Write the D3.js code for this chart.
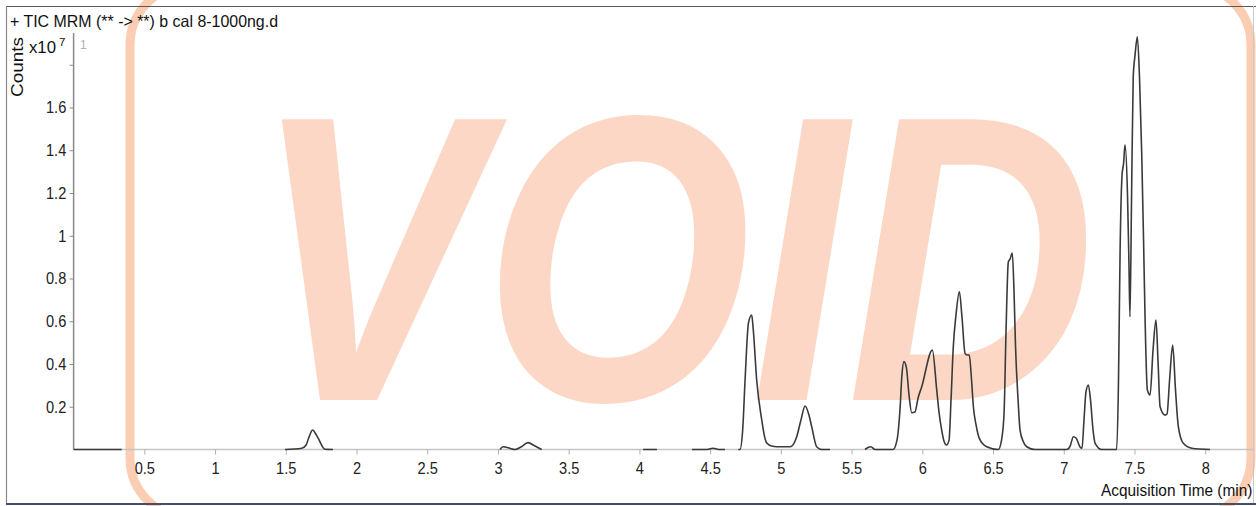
<!DOCTYPE html>
<html>
<head>
<meta charset="utf-8">
<script src="https://cdn.jsdelivr.net/npm/d3@7"></script>
<style>
  html, body { margin: 0; padding: 0; background: #ffffff; }
  #wrap { position: relative; width: 1256px; height: 506px; overflow: hidden; }
  svg { position: absolute; left: 0; top: 0; display: block; font-family: "Liberation Sans", Arial, sans-serif; z-index: 1; }
  .stamp-word {
    position: absolute; z-index: 0; white-space: nowrap;
    font-family: "Liberation Sans", Arial, sans-serif;
    font-style: italic; font-weight: bold;
    transform-origin: 0 0;
  }
</style>
</head>
<body>
<div id="wrap">
<svg id="chart" width="1256" height="506"></svg>
</div>
<script>
// ---------- data (time in min, counts in x10^7; null = no data segment) ----------
const traceTime = [
  0, 0.34, null,
  1.494, 1.613, 1.643, 1.664, 1.690, 1.714, 1.728, 1.777, 1.834, null,
  3.015, 3.036, 3.078, 3.121, 3.163, 3.212, 3.262, 3.309, null,
  4.026, 4.124, null,
  4.372, 4.48, 4.52, 4.56, 4.605, null,
  4.699, 4.711, 4.730, 4.747, 4.771, 4.794, 4.805, 4.829, 4.865, 4.885, 4.9, 4.935, 4.971, 5.065,
  5.112, 5.142, 5.171, 5.199, 5.218, 5.253, 5.29, 5.348, null,
  5.595, 5.616, 5.637, 5.665, 5.793, 5.821, 5.842, 5.856, 5.870, 5.888, 5.906, 5.925, 5.948,
  5.970, 5.996, 6.071, 6.102, 6.118, 6.137, 6.153, 6.171, 6.189, 6.203, 6.219, 6.238, 6.262,
  6.281, 6.302, 6.316, 6.332, 6.348, 6.361, 6.380, 6.403, 6.455, 6.537, 6.560, 6.578, 6.592,
  6.608, 6.620, 6.636, 6.648, 6.659, 6.677, 6.691, 6.712, 6.738, 6.797, 7.021, 7.045, 7.068,
  7.087, 7.115, 7.129, 7.143, 7.157, 7.174, 7.189, 7.207, 7.221, 7.268, 7.374, 7.387, 7.398,
  7.412, 7.423, 7.433, 7.451, 7.461, 7.468, 7.479, 7.491, 7.504, 7.520, 7.536, 7.551, 7.564,
  7.575, 7.591, 7.610, 7.631, 7.652, 7.666, 7.681, 7.716, 7.730, 7.748, 7.770, 7.790, 7.810,
  7.845, 7.905, 8.034
];
const traceCounts = [
  0, 0, null,
  0, 0.006, 0.02, 0.058, 0.091, 0.07, 0.054, 0.001, 0, null,
  0, 0.013, 0.007, 0, 0.012, 0.032, 0.016, 0, null,
  0, 0, null,
  0, 0, 0.006, 0, 0, null,
  0, 0, 0.091, 0.325, 0.592, 0.629, 0.56, 0.325, 0.138, 0.06, 0.03, 0.016, 0.013, 0.013,
  0.06, 0.138, 0.2035, 0.16, 0.107, 0.013, 0, 0, null,
  0, 0.009, 0.013, 0, 0, 0.044, 0.185, 0.349, 0.411, 0.381, 0.255, 0.172, 0.175,
  0.241, 0.294, 0.465, 0.278, 0.175, 0.091, 0.04, 0.021, 0.044, 0.232, 0.481, 0.629, 0.738,
  0.615, 0.45, 0.442, 0.442, 0.325, 0.2, 0.115, 0.052, 0.013, 0, 0.044, 0.171, 0.559,
  0.877, 0.891, 0.919, 0.746, 0.481, 0.232, 0.091, 0.04, 0.013, 0, 0, 0.016, 0.06,
  0.054, 0.012, 0.006, 0.138, 0.269, 0.302, 0.232, 0.091, 0.03, 0, 0, 0.325, 0.919,
  1.284, 1.34, 1.425, 1.18, 0.86, 0.621, 1.167, 1.744, 1.846, 1.931, 1.729, 1.387, 0.98,
  0.606, 0.278, 0.255, 0.465, 0.606, 0.419, 0.2, 0.161, 0.166, 0.325, 0.489, 0.278, 0.107,
  0.029, 0.006, 0
];
const xTickValues = [0.5, 1, 1.5, 2, 2.5, 3, 3.5, 4, 4.5, 5, 5.5, 6, 6.5, 7, 7.5, 8];
const yTickValues = [0.2, 0.4, 0.6, 0.8, 1, 1.2, 1.4, 1.6, 1.8];
const yTickLabels = ["0.2", "0.4", "0.6", "0.8", "1", "1.2", "1.4", "1.6", ""];
const titleText = "+ TIC MRM (** -> **) b cal 8-1000ng.d";
const yAxisTitle = "Counts";
const yExponentBase = "x10";
const yExponent = "7";
const xAxisTitle = "Acquisition Time (min)";
const segmentMarker = "1";
const watermarkText = "VOID";

// ---------- drawing ----------
const svg = d3.select("#chart");

const x = d3.scaleLinear().domain([0, 8.33]).range([73.6, 1251.9]);
const y = d3.scaleLinear().domain([0, 1.6]).range([449.5, 107.5]);

// watermark word (stamp), placed underneath the chart layer
d3.select("#wrap").append("div")
  .attr("class", "stamp-word")
  .style("left", "253px")
  .style("top", "114px")
  .style("font-size", "408px")
  .style("line-height", "290px")
  .style("height", "290px")
  .style("color", "#fdd7c5")
  .style("transform", "scaleX(0.845)")
  .text(watermarkText);

// stamp border
svg.append("rect")
  .attr("x", 130).attr("y", -15)
  .attr("width", 1121).attr("height", 533)
  .attr("rx", 60).attr("ry", 60)
  .attr("fill", "none")
  .attr("stroke", "#fbcdb2")
  .attr("stroke-width", 9);

// outer frame
svg.append("line").attr("x1", 6).attr("x2", 1256).attr("y1", 6.5).attr("y2", 6.5)
  .attr("stroke", "#5a5a5a").attr("stroke-width", 1.2);
svg.append("line").attr("x1", 6.5).attr("x2", 6.5).attr("y1", 6).attr("y2", 504)
  .attr("stroke", "#8a8a8a").attr("stroke-width", 1.2);
svg.append("line").attr("x1", 1253.5).attr("x2", 1253.5).attr("y1", 6).attr("y2", 504)
  .attr("stroke", "#c8c8c8").attr("stroke-width", 1);
svg.append("line").attr("x1", 6).attr("x2", 1256).attr("y1", 504).attr("y2", 504)
  .attr("stroke", "#44506a").attr("stroke-width", 2);

// title
svg.append("text").attr("x", 10).attr("y", 27)
  .attr("font-size", 16.5).attr("fill", "#111")
  .attr("textLength", 268).attr("lengthAdjust", "spacingAndGlyphs")
  .text(titleText);

// x axis
const xAxis = svg.append("g").attr("transform", `translate(0,${y(0)})`)
  .call(d3.axisBottom(x).tickValues(xTickValues).tickSize(5).tickPadding(7)
    .tickFormat(d => String(d)).tickSizeOuter(0));
xAxis.select(".domain").attr("stroke", "#c4c4c4").attr("stroke-width", 1.5)
  .attr("d", `M${x(0)},0H1253`);
xAxis.selectAll(".tick line").attr("stroke", "#b0b0b0");
xAxis.selectAll(".tick text").attr("font-size", 17).attr("fill", "#222")
  .attr("font-family", "'Liberation Sans', Arial, sans-serif")
  .attr("transform", "scale(0.86,1)");

// y axis
const yAxis = svg.append("g").attr("transform", `translate(${x(0)},0)`)
  .call(d3.axisLeft(y).tickValues(yTickValues).tickSize(4).tickPadding(4.5)
    .tickFormat((d, i) => yTickLabels[i]).tickSizeOuter(0));
yAxis.select(".domain").attr("stroke", "#8a8a8a").attr("stroke-width", 1.5)
  .attr("d", `M0,33V${y(0)}`);
yAxis.selectAll(".tick line").attr("stroke", "#8a8a8a");
yAxis.selectAll(".tick text").attr("font-size", 17).attr("fill", "#222")
  .attr("font-family", "'Liberation Sans', Arial, sans-serif")
  .attr("transform", "scale(0.86,1)");

// y axis title and exponent
svg.append("text")
  .attr("transform", "translate(23,67) rotate(-90)")
  .attr("text-anchor", "middle")
  .attr("font-size", 16.5).attr("fill", "#111")
  .attr("textLength", 60).attr("lengthAdjust", "spacingAndGlyphs")
  .text(yAxisTitle);
svg.append("text").attr("x", 29).attr("y", 53)
  .attr("font-size", 16).attr("fill", "#111")
  .attr("textLength", 27).attr("lengthAdjust", "spacingAndGlyphs")
  .text(yExponentBase);
svg.append("text").attr("x", 59).attr("y", 46)
  .attr("font-size", 11.5).attr("fill", "#111")
  .text(yExponent);
svg.append("text").attr("x", 80).attr("y", 49)
  .attr("font-size", 12).attr("fill", "#b0b0b0")
  .text(segmentMarker);

// x axis title (natural width fits inside the frame)
svg.append("text")
  .attr("transform", "translate(1101,496) scale(1,1.12)")
  .attr("font-size", 15.4).attr("fill", "#111")
  .text(xAxisTitle);

// trace
const pts = traceTime.map((t, i) => ({ t, v: traceCounts[i] }));
const line = d3.line()
  .defined(d => d.t !== null && d.v !== null)
  .x(d => x(d.t))
  .y(d => y(d.v))
  .curve(d3.curveMonotoneX);
svg.append("path")
  .datum(pts)
  .attr("fill", "none")
  .attr("stroke", "#3a3a3a")
  .attr("stroke-width", 1.6)
  .attr("stroke-linejoin", "round")
  .attr("d", line);
</script>
</body>
</html>
